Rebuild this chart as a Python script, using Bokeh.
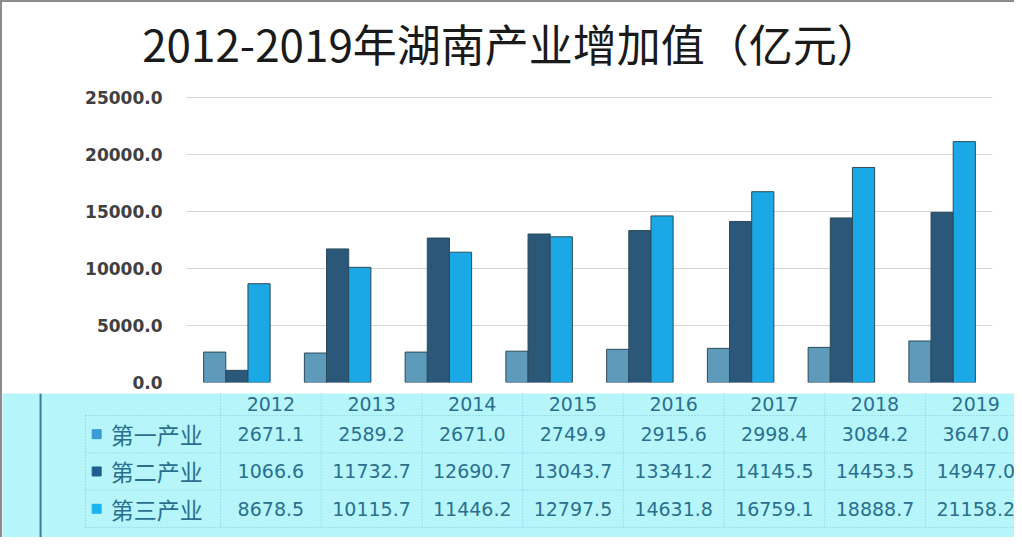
from bokeh.plotting import figure
from bokeh.layouts import column
from bokeh.models import ColumnDataSource, FactorRange, Range1d, FixedTicker, NumeralTickFormatter
from bokeh.transform import dodge
from bokeh.core.properties import value
from bokeh.embed import file_html
from bokeh.resources import INLINE

# ---------------- data ----------------
years = ["2012", "2013", "2014", "2015", "2016", "2017", "2018", "2019"]
series_names = ["第一产业", "第二产业", "第三产业"]
primary = [2671.1, 2589.2, 2671.0, 2749.9, 2915.6, 2998.4, 3084.2, 3647.0]
secondary = [1066.6, 11732.7, 12690.7, 13043.7, 13341.2, 14145.5, 14453.5, 14947.0]
tertiary = [8678.5, 10115.7, 11446.2, 12797.5, 14631.8, 16759.1, 18888.7, 21158.2]
y_ticks = [0, 5000, 10000, 15000, 20000, 25000]
title_text = "2012-2019年湖南产业增加值（亿元）"

bar_colors = ["#5e9bba", "#2b5878", "#1aa9e6"]
legend_colors = ["#3a9bd5", "#1f5f8f", "#17b4f0"]
table_text_color = "#2b6f8f"
table_bg = "#b6f6fb"

W = 1012


def bare(fig):
    fig.outline_line_color = None
    fig.grid.visible = False
    if hasattr(fig, "frame_align"):
        fig.frame_align = False


# ---------------- title ----------------
p0 = figure(x_range=Range1d(0, W), y_range=Range1d(80, 0), width=W, height=80,
            output_backend="svg", toolbar_location=None, x_axis_type=None, y_axis_type=None,
            min_border_left=0, min_border_right=0, min_border_top=0, min_border_bottom=0)
bare(p0)
p0.text(x=[509], y=[40], text=[title_text], text_font=value("Noto Sans CJK SC"),
        text_font_size="44px", text_color="#1a1a1a", text_align="center", text_baseline="middle")

# ---------------- chart ----------------
src = ColumnDataSource(dict(year=years, primary=primary, secondary=secondary, tertiary=tertiary))

p1 = figure(x_range=FactorRange(factors=years), y_range=Range1d(0, 26000),
            width=W, height=311, output_backend="svg", toolbar_location=None,
            min_border_left=184, min_border_right=22, min_border_top=4, min_border_bottom=11)
bare(p1)

for col, off, c in zip(["primary", "secondary", "tertiary"], [-0.22, 0.0, 0.22], bar_colors):
    p1.vbar(x=dodge("year", off, range=p1.x_range), top=col, width=0.22, source=src,
            fill_color=c, line_color="#2c4a5a", line_width=1)

p1.xaxis.visible = False
p1.yaxis.ticker = FixedTicker(ticks=y_ticks)
p1.yaxis.formatter = NumeralTickFormatter(format="0.0")
p1.yaxis.axis_line_color = None
p1.yaxis.major_tick_line_color = None
p1.yaxis.minor_tick_line_color = None
p1.yaxis.major_label_text_font = "DejaVu Sans"
p1.yaxis.major_label_text_font_style = "bold"
p1.yaxis.major_label_text_font_size = "17px"
p1.yaxis.major_label_text_color = "#404040"
p1.yaxis.major_label_standoff = 18
p1.ygrid.visible = True
p1.ygrid.grid_line_color = "#d6d6d6"

# ---------------- data table ----------------
p2 = figure(x_range=Range1d(-2.165, 7.885), y_range=Range1d(3.27, -0.59),
            width=W, height=144, output_backend="svg", toolbar_location=None,
            x_axis_type=None, y_axis_type=None,
            min_border_left=0, min_border_right=0, min_border_top=0, min_border_bottom=0)
bare(p2)
p2.background_fill_color = table_bg
p2.border_fill_color = table_bg

n = len(years)
hx0, hx1, hy = [], [], []
for r in range(4):
    hx0.append(-1.34); hx1.append(n); hy.append(r)
p2.segment(x0=hx0, x1=hx1, y0=hy, y1=hy, line_color="#7ccadd", line_dash="1 2", line_width=1)
vx = list(range(n + 1))
p2.segment(x0=vx, x1=vx, y0=[-0.59] * len(vx), y1=[3] * len(vx),
           line_color="#7ccadd", line_dash="1 2", line_width=1)
p2.segment(x0=[-1.34], x1=[-1.34], y0=[0], y1=[3], line_color="#7ccadd", line_dash="1 2", line_width=1)
p2.segment(x0=[-1.787], x1=[-1.787], y0=[-0.59], y1=[3.27], line_color="#3d7d98", line_width=2)

# header
p2.text(x=[i + 0.5 for i in range(n)], y=[-0.32] * n, text=years,
        text_font=value("DejaVu Sans"), text_font_size="19px", text_color=table_text_color,
        text_align="center", text_baseline="middle")

# values
tx, ty, tt = [], [], []
for r, vals in enumerate([primary, secondary, tertiary]):
    for i, v in enumerate(vals):
        tx.append(i + 0.5); ty.append(r + 0.5); tt.append(f"{v:.1f}")
p2.text(x=tx, y=ty, text=tt, text_font=value("DejaVu Sans"), text_font_size="19px",
        text_color=table_text_color, text_align="center", text_baseline="middle")

# row labels with legend squares
rows = [r + 0.5 for r in range(3)]
p2.scatter(x=[-1.23] * 3, y=rows, marker="square", size=9, fill_color=legend_colors,
           line_color=legend_colors)
p2.text(x=[-1.09] * 3, y=rows, text=series_names, text_font=value("Noto Sans CJK SC"),
        text_font_size="23px", text_color=table_text_color, text_align="left",
        text_baseline="middle")

layout = column(p0, p1, p2, spacing=0)
layout.styles = {"border-top": "2px solid #8c8c8c", "border-left": "2px solid #8c8c8c"}
open("out.html", "w").write(file_html(layout, INLINE))
